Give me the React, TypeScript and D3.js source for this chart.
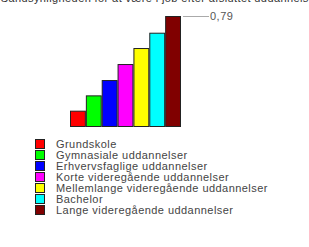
// @ts-nocheck
import React, { useEffect, useRef } from "react";
import * as d3 from "d3";

const categories = [
  "Grundskole",
  "Gymnasiale uddannelser",
  "Erhvervsfaglige uddannelser",
  "Korte videregående uddannelser",
  "Mellemlange videregående uddannelser",
  "Bachelor",
  "Lange videregående uddannelser",
];
const values = [0.11, 0.22, 0.33, 0.445, 0.56, 0.67, 0.79];
const colors = ["#ff0000", "#00ff00", "#0000ff", "#ff00ff", "#ffff00", "#00ffff", "#800000"];
const title = "Sandsynligheden for at være i job efter afsluttet uddannelse";

function drawChart(el) {
  const width = 309;
  const height = 247;
  const font = "Arial, 'Liberation Sans', sans-serif";

  const svg = d3
    .select(el)
    .append("svg")
    .attr("width", width)
    .attr("height", height)
    .style("position", "absolute")
    .style("left", 0)
    .style("top", 0)
    .style("background", "#fff");

  // title, mostly cut off at the top (as in the original)
  svg
    .append("text")
    .attr("x", 158)
    .attr("y", 2)
    .attr("text-anchor", "middle")
    .attr("font-family", font)
    .attr("font-size", 11)
    .attr("letter-spacing", 0.4)
    .attr("fill", "#333")
    .text(title);

  const x = d3.scaleBand(d3.range(categories.length), [70, 181]).padding(0);
  const y = d3.scaleLinear([0, 0.79], [126, 16]);

  svg
    .append("g")
    .selectAll("rect")
    .data(values)
    .join("rect")
    .attr("x", (d, i) => x(i) + 0.5)
    .attr("y", (d) => y(d) + 0.5)
    .attr("width", x.bandwidth() - 1)
    .attr("height", (d) => y(0) - y(d))
    .attr("fill", (d, i) => colors[i])
    .attr("stroke", "#222")
    .attr("stroke-width", 1);

  // value label for the highest bar
  const maxV = d3.max(values);
  svg
    .append("line")
    .attr("x1", 183)
    .attr("x2", 209)
    .attr("y1", y(maxV) + 0.5)
    .attr("y2", y(maxV) + 0.5)
    .attr("stroke", "#aaa");
  svg
    .append("text")
    .attr("x", 210)
    .attr("y", y(maxV) + 4)
    .attr("font-family", font)
    .attr("font-size", 11)
    .attr("letter-spacing", 0.5)
    .attr("fill", "#555")
    .text(d3.format(".2f")(maxV).replace(".", ","));

  // legend
  const legend = svg
    .append("g")
    .selectAll("g")
    .data(categories)
    .join("g")
    .attr("transform", (d, i) => `translate(35,${144 + i * 11})`);

  legend
    .append("rect")
    .attr("x", 0.5)
    .attr("y", -4.5)
    .attr("width", 9)
    .attr("height", 9)
    .attr("fill", (d, i) => colors[i])
    .attr("stroke", "#222");

  legend
    .append("text")
    .attr("x", 21)
    .attr("y", 4)
    .attr("font-family", font)
    .attr("font-size", 11)
    .attr("letter-spacing", 0.45)
    .attr("fill", "#444")
    .text((d) => d);
}

export default function App() {
  const ref = useRef(null);
  useEffect(() => {
    if (!ref.current) return;
    ref.current.innerHTML = "";
    drawChart(ref.current);
  }, []);
  return <div ref={ref} />;
}
